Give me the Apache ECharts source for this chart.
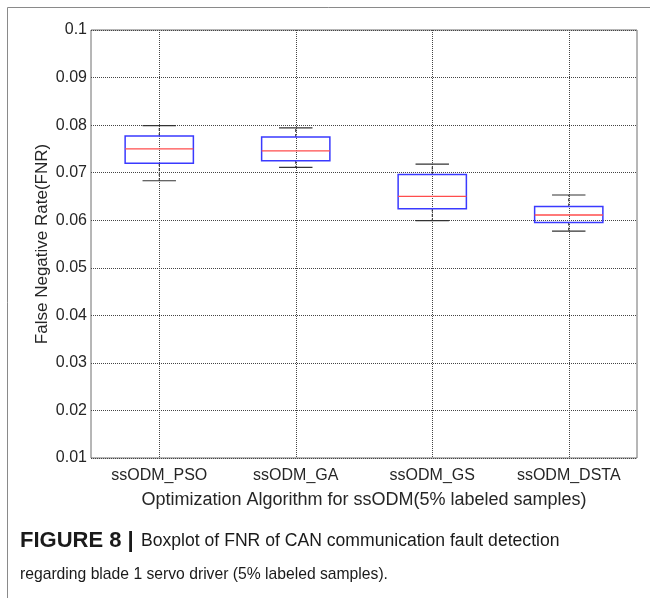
<!DOCTYPE html>
<html><head><meta charset="utf-8">
<script src="https://cdn.jsdelivr.net/npm/echarts@6/dist/echarts.min.js"></script>
<style>html,body{margin:0;padding:0;background:#fff}#c{width:650px;height:598px}</style>
</head><body><div id="c"></div>
<script>
const categories = ['ssODM_PSO', 'ssODM_GA', 'ssODM_GS', 'ssODM_DSTA'];
const lowerWhisker = [0.0683, 0.0711, 0.0599, 0.0577];
const q1 = [0.0720, 0.0725, 0.0624, 0.0595];
const median = [0.0750, 0.0746, 0.0650, 0.0611];
const q3 = [0.0777, 0.0775, 0.0696, 0.0629];
const upperWhisker = [0.0799, 0.0794, 0.0718, 0.0653];
const yMin = 0.01, yMax = 0.1, yStep = 0.01;
const xName = 'Optimization Algorithm for ssODM(5% labeled samples)';
const yName = 'False Negative Rate(FNR)';
const captionBold = 'FIGURE 8 |';
const captionLine1 = 'Boxplot of FNR of CAN communication fault detection';
const captionLine2 = 'regarding blade 1 servo driver (5% labeled samples).';

const FONT = '"Liberation Sans", Arial, Helvetica, sans-serif';
const data = categories.map((c, i) => [i, lowerWhisker[i], q1[i], median[i], q3[i], upperWhisker[i]]);

const chart = echarts.init(document.getElementById('c'), null, {renderer: 'canvas'});
chart.setOption({
  backgroundColor: '#fff',
  animation: false,
  grid: {left: 91, right: 13, top: 30, bottom: 140, show: true, borderColor: '#6e6e6e', borderWidth: 1, backgroundColor: 'transparent'},
  xAxis: {
    type: 'category', data: categories,
    name: xName, nameLocation: 'middle', nameGap: 33, nameMoveOverlap: false,
    nameTextStyle: {fontFamily: FONT, fontSize: 18, color: '#262626'},
    axisLine: {show: false}, axisTick: {show: false},
    axisLabel: {fontFamily: FONT, fontSize: 16, color: '#262626', margin: 10},
    splitLine: {show: true, alignWithLabel: true, lineStyle: {color: '#444', type: [1, 1], width: 1}}
  },
  yAxis: {
    type: 'value', min: yMin, max: yMax, interval: yStep,
    name: yName, nameLocation: 'middle', nameGap: 40, nameMoveOverlap: false,
    nameTextStyle: {fontFamily: FONT, fontSize: 17, color: '#262626'},
    axisLine: {show: false}, axisTick: {show: false},
    axisLabel: {fontFamily: FONT, fontSize: 16, color: '#262626', margin: 4, formatter: v => String(+v.toFixed(2))},
    splitLine: {show: true, lineStyle: {color: '#444', type: [1, 1], width: 1}}
  },
  series: [{
    type: 'custom',
    data: data,
    encode: {x: 0, y: [1, 2, 3, 4, 5]},
    renderItem: function (params, api) {
      const i = api.value(0);
      const x = api.coord([i, api.value(3)])[0];
      const band = api.size([1, 0])[0];
      const bw = band * 0.5, cw = band * 0.245;
      const yLo = api.coord([i, api.value(1)])[1];
      const yQ1 = api.coord([i, api.value(2)])[1];
      const yMed = api.coord([i, api.value(3)])[1];
      const yQ3 = api.coord([i, api.value(4)])[1];
      const yHi = api.coord([i, api.value(5)])[1];
      const blk = {stroke: '#333', lineWidth: 1.2};
      return {type: 'group', children: [
        {type: 'line', shape: {x1: x, y1: yQ3, x2: x, y2: yHi}, style: {stroke: '#222', lineWidth: 1, lineDash: [3, 2]}},
        {type: 'line', shape: {x1: x, y1: yQ1, x2: x, y2: yLo}, style: {stroke: '#222', lineWidth: 1, lineDash: [3, 2]}},
        {type: 'line', shape: {x1: x - cw / 2, y1: yHi, x2: x + cw / 2, y2: yHi}, style: blk},
        {type: 'line', shape: {x1: x - cw / 2, y1: yLo, x2: x + cw / 2, y2: yLo}, style: blk},
        {type: 'rect', shape: {x: x - bw / 2, y: yQ3, width: bw, height: yQ1 - yQ3}, style: {fill: 'none', stroke: '#3a3aff', lineWidth: 1.5}},
        {type: 'line', shape: {x1: x - bw / 2, y1: yMed, x2: x + bw / 2, y2: yMed}, style: {stroke: '#ff4d4d', lineWidth: 1.3}}
      ]};
    }
  }],
  graphic: [
    {type: 'line', shape: {x1: 7.5, y1: 7.5, x2: 650, y2: 7.5}, style: {stroke: '#8a8a8a', lineWidth: 1}},
    {type: 'line', shape: {x1: 7.5, y1: 7.5, x2: 7.5, y2: 598}, style: {stroke: '#8a8a8a', lineWidth: 1}},
    {type: 'text', x: 20, y: 541, style: {text: captionBold, font: 'bold 22px ' + FONT, fill: '#1a1a1a', verticalAlign: 'middle'}},
    {type: 'text', x: 141, y: 541, style: {text: captionLine1, font: '17.6px ' + FONT, fill: '#1a1a1a', verticalAlign: 'middle'}},
    {type: 'text', x: 20, y: 575, style: {text: captionLine2, font: '15.7px ' + FONT, fill: '#1a1a1a', verticalAlign: 'middle'}}
  ]
});
</script></body></html>
